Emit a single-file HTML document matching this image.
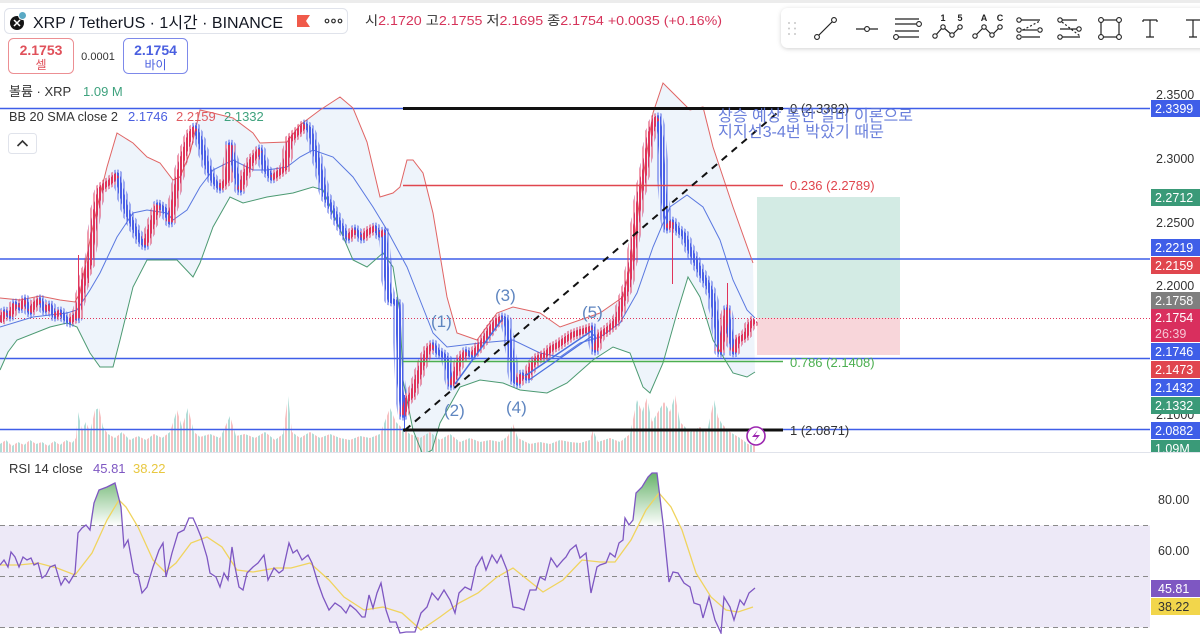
<!DOCTYPE html>
<html><head><meta charset="utf-8">
<style>
html,body{margin:0;padding:0;background:#fff;overflow:hidden;}
svg{display:block;}
text{font-family:"Liberation Sans","Noto Sans CJK KR",sans-serif;}
</style></head>
<body>
<svg width="1200" height="634" viewBox="0 0 1200 634" xmlns="http://www.w3.org/2000/svg">
<defs>
 <clipPath id="main"><rect x="0" y="0" width="1150" height="452"/></clipPath>
 <clipPath id="rsiPane"><rect x="0" y="454" width="1150" height="180"/></clipPath>
 <clipPath id="axisClip"><rect x="1140" y="0" width="60" height="452"/></clipPath>
 <linearGradient id="gg" gradientUnits="userSpaceOnUse" x1="0" y1="470" x2="0" y2="526">
  <stop offset="0" stop-color="#43a047" stop-opacity="0.85"/>
  <stop offset="1" stop-color="#43a047" stop-opacity="0"/>
 </linearGradient>
 <pattern id="pb" width="3" height="10" patternUnits="userSpaceOnUse"><rect x="0" y="0" width="2" height="10" fill="#4a5fe6"/></pattern>
 <pattern id="pr" width="3" height="10" patternUnits="userSpaceOnUse"><rect x="0" y="0" width="2" height="10" fill="#e0345a"/></pattern>
 <pattern id="wb" width="3" height="10" patternUnits="userSpaceOnUse"><rect x="0.5" y="0" width="1" height="10" fill="#4a5fe6"/></pattern>
 <pattern id="wr" width="3" height="10" patternUnits="userSpaceOnUse"><rect x="0.5" y="0" width="1" height="10" fill="#e0345a"/></pattern>
 <pattern id="pv" width="6" height="10" patternUnits="userSpaceOnUse"><rect x="0" y="0" width="2" height="10" fill="#b0ddd7"/><rect x="3" y="0" width="2" height="10" fill="#f7c0c1"/></pattern>
 <filter id="sh" x="-5%" y="-30%" width="115%" height="180%">
  <feDropShadow dx="0" dy="1" stdDeviation="2" flood-color="#000" flood-opacity="0.18"/>
 </filter>
</defs>
<rect width="1200" height="634" fill="#fff"/>
<rect x="0" y="0" width="1200" height="3" fill="#ececec"/>

<g clip-path="url(#main)">
 <polygon fill="#eef4fb" points="0,298 20,300 40,296 60,300 75,302 80,293 90,240 100,195 107,167 117,133 125,138 133,143 147,157 160,163 173,180 180,177 190,153 200,110 213,113 233,118 253,133 260,143 287,142 300,125 320,110 340,97 353,108 367,142 380,197 393,193 400,187 407,160 413,160 423,173 433,213 447,297 457,333 477,340 497,313 513,307 540,313 560,327 580,320 600,313 623,297 632,260 640,197 653,113 663,83 672,92 680,100 690,110 703,107 713,147 733,207 753,263 755,372 747,377 733,373 713,340 700,297 688,277 677,313 663,363 650,393 643,387 630,353 613,347 593,360 567,383 547,393 520,390 503,383 480,380 460,387 440,423 432,450 423,455 413,430 403,380 400,313 393,267 383,253 367,267 353,260 333,213 323,190 313,187 293,193 267,197 243,203 230,197 213,227 200,263 193,277 177,260 167,260 147,260 133,287 120,340 113,367 100,367 90,353 77,327 67,323 50,327 17,340 8,352 0,370"/>
 <polygon fill="url(#pv)" points="0,452 0,444 6,440 12,446 18,442 24,445 30,440 36,444 42,442 48,446 54,441 60,445 66,440 72,443 76,438 78,412 82,430 86,422 90,432 95,410 99,408 103,427 108,434 115,438 122,432 130,440 138,436 146,440 154,434 162,438 170,432 177,410 182,427 188,408 194,432 200,437 210,434 220,438 230,416 236,436 245,434 255,438 265,432 275,440 283,434 288,396 292,432 300,438 310,432 320,438 330,434 340,438 350,440 360,436 370,438 380,434 390,408 396,422 402,428 410,434 420,438 430,432 440,440 450,434 460,442 470,438 480,442 490,440 500,442 508,436 513,424 518,438 530,444 540,442 550,444 560,440 570,442 580,443 590,440 593,430 598,442 610,438 620,442 630,434 637,400 642,412 647,398 652,422 658,412 664,402 670,412 675,395 680,422 690,432 700,427 707,432 714,400 718,417 722,424 730,432 740,438 748,444 755,446 756,452"/>
 <rect x="757" y="197" width="143" height="121" fill="#d3ebe4"/>
 <rect x="757" y="318" width="143" height="37" fill="#f8d6da"/>
 <line x1="0" y1="108.5" x2="1150" y2="108.5" stroke="#3f5ee8" stroke-width="1.5"/>
 <line x1="0" y1="259" x2="1150" y2="259" stroke="#3f5ee8" stroke-width="1.5"/>
 <line x1="0" y1="358.5" x2="1150" y2="358.5" stroke="#3f5ee8" stroke-width="1.5"/>
 <line x1="0" y1="429.5" x2="1150" y2="429.5" stroke="#3f5ee8" stroke-width="1.5"/>
 <line x1="0" y1="318.5" x2="1150" y2="318.5" stroke="#e0345a" stroke-width="1" stroke-dasharray="1 2"/>
 <polyline fill="none" stroke="#e06464" stroke-width="1" points="0,298 20,300 40,296 60,300 75,302 80,293 90,240 100,195 107,167 117,133 125,138 133,143 147,157 160,163 173,180 180,177 190,153 200,110 213,113 233,118 253,133 260,143 287,142 300,125 320,110 340,97 353,108 367,142 380,197 393,193 400,187 407,160 413,160 423,173 433,213 447,297 457,333 477,340 497,313 513,307 540,313 560,327 580,320 600,313 623,297 632,260 640,197 653,113 663,83 672,92 680,100 690,110 703,107 713,147 733,207 753,263"/>
 <polyline fill="none" stroke="#5a78e0" stroke-width="1" points="0,327 33,317 67,313 77,310 90,290 100,273 117,237 133,213 147,210 167,213 173,220 187,210 200,187 213,170 233,160 253,170 267,170 287,167 300,157 313,150 333,157 353,177 373,207 387,230 407,267 420,300 433,333 447,347 480,343 513,340 540,353 560,357 580,343 600,337 620,323 637,293 653,247 670,207 687,195 703,207 720,240 733,280 747,310 755,318"/>
 <polyline fill="none" stroke="#4c9a72" stroke-width="1" points="0,370 8,352 17,340 50,327 67,323 77,327 90,353 100,367 113,367 120,340 133,287 147,260 167,260 177,260 193,277 200,263 213,227 230,197 243,203 267,197 293,193 313,187 323,190 333,213 353,260 367,267 383,253 393,267 400,313 403,380 413,430 423,455 432,450 440,423 460,387 480,380 503,383 520,390 547,393 567,383 593,360 613,347 630,353 643,387 650,393 663,363 677,313 688,277 700,297 713,340 733,373 747,377 755,372"/>
 <polyline fill="none" stroke="url(#wb)" stroke-width="11" stroke-linejoin="round" points="0,322 5,312 10,316 15,304 20,308 25,300 30,312 35,304 40,300 45,310 50,306 55,316 60,312 65,318 70,322 75,316 77,318 80,300 85,275 90,262 95,215 100,190 105,185 110,182 117,175 122,195 127,212 133,225 140,240 145,245 150,230 158,205 165,210 170,222 175,195 182,160 190,135 195,128 200,140 207,165 213,180 220,188 227,180 230,145 235,170 240,190 245,175 252,160 260,150 265,168 272,178 280,172 285,168 290,140 295,135 300,130 305,125 310,130 315,150 320,170 325,195 330,205 335,215 340,225 348,238 355,230 362,238 368,232 375,228 380,235 384,232 387,280 390,300 395,302 398,305 400,380 403,415 407,400 412,395 417,380 422,365 428,350 433,345 438,352 443,355 447,360 451,385 455,375 460,360 466,352 472,355 478,348 484,340 490,330 496,322 502,318 506,320 510,345 514,380 518,383 522,375 527,378 532,365 538,358 545,355 552,348 558,345 565,340 572,335 580,332 587,330 592,328 595,350 600,335 607,330 613,325 618,318 623,300 628,285 632,260 636,225 640,195 645,170 650,135 655,120 658,118 661,140 664,200 667,228 672,222 678,230 684,235 690,250 696,262 702,275 708,285 712,295 716,320 720,352 724,330 727,310 730,335 734,352 738,340 742,338 746,335 750,325 755,320"/>
 <path fill="none" stroke="url(#wr)" stroke-width="11" stroke-linejoin="round" d="M0,322 L5,312 M10,316 L15,304 M20,308 L25,300 M30,312 L35,304 L40,300 M45,310 L50,306 M55,316 L60,312 M70,322 L75,316 M77,318 L80,300 L85,275 L90,262 L95,215 L100,190 L105,185 L110,182 L117,175 M145,245 L150,230 L158,205 M170,222 L175,195 L182,160 L190,135 L195,128 M220,188 L227,180 L230,145 M240,190 L245,175 L252,160 L260,150 M272,178 L280,172 L285,168 L290,140 L295,135 L300,130 L305,125 M348,238 L355,230 M362,238 L368,232 L375,228 M380,235 L384,232 M403,415 L407,400 L412,395 L417,380 L422,365 L428,350 L433,345 M451,385 L455,375 L460,360 L466,352 M472,355 L478,348 L484,340 L490,330 L496,322 L502,318 M518,383 L522,375 M527,378 L532,365 L538,358 L545,355 L552,348 L558,345 L565,340 L572,335 L580,332 L587,330 L592,328 M595,350 L600,335 L607,330 L613,325 L618,318 L623,300 L628,285 L632,260 L636,225 L640,195 L645,170 L650,135 L655,120 L658,118 M667,228 L672,222 M720,352 L724,330 L727,310 M734,352 L738,340 L742,338 L746,335 L750,325 L755,320"/>
 <polyline fill="none" stroke="url(#pb)" stroke-width="5.5" stroke-linejoin="round" points="0,322 5,312 10,316 15,304 20,308 25,300 30,312 35,304 40,300 45,310 50,306 55,316 60,312 65,318 70,322 75,316 77,318 80,300 85,275 90,262 95,215 100,190 105,185 110,182 117,175 122,195 127,212 133,225 140,240 145,245 150,230 158,205 165,210 170,222 175,195 182,160 190,135 195,128 200,140 207,165 213,180 220,188 227,180 230,145 235,170 240,190 245,175 252,160 260,150 265,168 272,178 280,172 285,168 290,140 295,135 300,130 305,125 310,130 315,150 320,170 325,195 330,205 335,215 340,225 348,238 355,230 362,238 368,232 375,228 380,235 384,232 387,280 390,300 395,302 398,305 400,380 403,415 407,400 412,395 417,380 422,365 428,350 433,345 438,352 443,355 447,360 451,385 455,375 460,360 466,352 472,355 478,348 484,340 490,330 496,322 502,318 506,320 510,345 514,380 518,383 522,375 527,378 532,365 538,358 545,355 552,348 558,345 565,340 572,335 580,332 587,330 592,328 595,350 600,335 607,330 613,325 618,318 623,300 628,285 632,260 636,225 640,195 645,170 650,135 655,120 658,118 661,140 664,200 667,228 672,222 678,230 684,235 690,250 696,262 702,275 708,285 712,295 716,320 720,352 724,330 727,310 730,335 734,352 738,340 742,338 746,335 750,325 755,320"/>
 <path fill="none" stroke="url(#pr)" stroke-width="5.5" stroke-linejoin="round" d="M0,322 L5,312 M10,316 L15,304 M20,308 L25,300 M30,312 L35,304 L40,300 M45,310 L50,306 M55,316 L60,312 M70,322 L75,316 M77,318 L80,300 L85,275 L90,262 L95,215 L100,190 L105,185 L110,182 L117,175 M145,245 L150,230 L158,205 M170,222 L175,195 L182,160 L190,135 L195,128 M220,188 L227,180 L230,145 M240,190 L245,175 L252,160 L260,150 M272,178 L280,172 L285,168 L290,140 L295,135 L300,130 L305,125 M348,238 L355,230 M362,238 L368,232 L375,228 M380,235 L384,232 M403,415 L407,400 L412,395 L417,380 L422,365 L428,350 L433,345 M451,385 L455,375 L460,360 L466,352 M472,355 L478,348 L484,340 L490,330 L496,322 L502,318 M518,383 L522,375 M527,378 L532,365 L538,358 L545,355 L552,348 L558,345 L565,340 L572,335 L580,332 L587,330 L592,328 M595,350 L600,335 L607,330 L613,325 L618,318 L623,300 L628,285 L632,260 L636,225 L640,195 L645,170 L650,135 L655,120 L658,118 M667,228 L672,222 M720,352 L724,330 L727,310 M734,352 L738,340 L742,338 L746,335 L750,325 L755,320"/>
 <line x1="404.5" y1="395" x2="404.5" y2="432" stroke="#4a5fe6" stroke-width="1"/>
 <line x1="672.5" y1="222" x2="672.5" y2="284" stroke="#e0345a" stroke-width="1"/>
 <line x1="727.5" y1="283" x2="727.5" y2="312" stroke="#e0345a" stroke-width="1"/>
 <line x1="78.5" y1="255" x2="78.5" y2="300" stroke="#e0345a" stroke-width="1"/>
 <line x1="88.5" y1="262" x2="88.5" y2="283" stroke="#e0345a" stroke-width="1"/>
 <line x1="403" y1="185.5" x2="783" y2="185.5" stroke="#e0464e" stroke-width="1.5"/>
 <line x1="403" y1="361.5" x2="783" y2="361.5" stroke="#4caf50" stroke-width="1.5"/>
 <line x1="403" y1="108.5" x2="783" y2="108.5" stroke="#111" stroke-width="3"/>
 <line x1="403" y1="430" x2="783" y2="430" stroke="#111" stroke-width="3"/>
 <line x1="405" y1="430" x2="783" y2="108" stroke="#111" stroke-width="2" stroke-dasharray="7 6"/>
 <line x1="455" y1="384" x2="503" y2="318" stroke="#4a6fe0" stroke-width="1.5"/>
 <line x1="525" y1="376" x2="593" y2="330" stroke="#4a6fe0" stroke-width="1.5"/>
 <line x1="529" y1="380" x2="595" y2="334" stroke="#4a6fe0" stroke-width="1.2"/>
 <g fill="#5f86c0" font-size="17">
  <text x="431" y="327">(1)</text>
  <text x="444" y="416">(2)</text>
  <text x="495" y="301">(3)</text>
  <text x="506" y="413">(4)</text>
  <text x="582" y="318">(5)</text>
 </g>
 <text x="790" y="113" font-size="13" fill="#333">0 (2.3382)</text>
 <text x="790" y="190" font-size="13" fill="#e0464e">0.236 (2.2789)</text>
 <text x="790" y="367" font-size="13" fill="#4caf50">0.786 (2.1408)</text>
 <text x="790" y="435" font-size="13" fill="#333">1 (2.0871)</text>
 <g fill="#5a72d8" font-size="16" opacity="0.9">
  <text x="718" y="121" textLength="195" lengthAdjust="spacingAndGlyphs">상승 예상 통한 일비 이론으로</text>
  <text x="718" y="137" textLength="166" lengthAdjust="spacingAndGlyphs">지지선3-4번 박았기 때문</text>
 </g>
 <circle cx="756" cy="436" r="9" fill="#fff" stroke="#9c27b0" stroke-width="1.6"/>
 <path d="M758 430 L752 437 L757 437 L754 442 L760 435 L755 435 Z" fill="#9c27b0"/>
</g>

<rect x="4.5" y="8.5" width="343" height="25" rx="5" fill="#fff" stroke="#e0e3eb"/>
<circle cx="17" cy="23" r="7" fill="#151515"/>
<path d="M14 20 L20 26 M20 20 L14 26" stroke="#fff" stroke-width="1.5"/>
<circle cx="22.5" cy="15.5" r="4" fill="#5aa9c4" stroke="#fff" stroke-width="1"/>
<text x="33" y="28" font-size="16" fill="#131722" textLength="250" lengthAdjust="spacingAndGlyphs">XRP / TetherUS · 1시간 · BINANCE</text>
<polygon points="297,15 310,15 306,21 310,27 297,27" fill="#f05a4a"/>
<g fill="none" stroke="#333" stroke-width="1.2">
 <circle cx="327" cy="21" r="1.8"/><circle cx="333.5" cy="21" r="1.8"/><circle cx="340" cy="21" r="1.8"/>
</g>
<text x="365" y="25" font-size="13" textLength="357" lengthAdjust="spacingAndGlyphs"><tspan fill="#333">시</tspan><tspan fill="#d6335a">2.1720 </tspan><tspan fill="#333">고</tspan><tspan fill="#d6335a">2.1755 </tspan><tspan fill="#333">저</tspan><tspan fill="#d6335a">2.1695 </tspan><tspan fill="#333">종</tspan><tspan fill="#d6335a">2.1754 +0.0035 (+0.16%)</tspan></text>

<rect x="8.5" y="38.5" width="65" height="35" rx="5" fill="#fff" stroke="#ec8f93"/>
<text x="41" y="55" font-size="14" font-weight="bold" fill="#e0505a" text-anchor="middle">2.1753</text>
<text x="41" y="69" font-size="12" fill="#e0505a" text-anchor="middle">셀</text>
<text x="98" y="60" font-size="11" fill="#333" text-anchor="middle">0.0001</text>
<rect x="123.5" y="38.5" width="64" height="35" rx="5" fill="#fff" stroke="#7d89ea"/>
<text x="155.5" y="55" font-size="14" font-weight="bold" fill="#4a5fe0" text-anchor="middle">2.1754</text>
<text x="155.5" y="69" font-size="12" fill="#4a5fe0" text-anchor="middle">바이</text>

<text x="9" y="96" font-size="13" fill="#333">볼륨 · XRP</text>
<text x="83" y="96" font-size="13" fill="#3fa27e">1.09 M</text>
<text x="9" y="121" font-size="13" fill="#333" textLength="109" lengthAdjust="spacingAndGlyphs">BB 20 SMA close 2</text>
<text x="128" y="121" font-size="13" fill="#4a5fe0">2.1746</text>
<text x="176" y="121" font-size="13" fill="#e05a60">2.2159</text>
<text x="224" y="121" font-size="13" fill="#3fa27e">2.1332</text>
<rect x="8.5" y="133.5" width="28" height="20" rx="3" fill="#fff" stroke="#e0e3eb"/>
<path d="M17.5 146 L22.5 141 L27.5 146" fill="none" stroke="#333" stroke-width="1.6"/>

<rect x="781" y="8" width="430" height="40" rx="7" fill="#fff" filter="url(#sh)"/>
<g fill="#c8c8c8">
 <circle cx="789" cy="23" r="1"/><circle cx="795" cy="23" r="1"/>
 <circle cx="789" cy="28.5" r="1"/><circle cx="795" cy="28.5" r="1"/>
 <circle cx="789" cy="34" r="1"/><circle cx="795" cy="34" r="1"/>
</g>
<g stroke="#222" stroke-width="1.2" fill="none">
 <line x1="817" y1="37" x2="834" y2="20"/>
 <line x1="856" y1="29" x2="878" y2="29"/>
 <line x1="895" y1="19" x2="919" y2="19"/><line x1="895" y1="24" x2="916" y2="24"/>
 <line x1="895" y1="31" x2="919" y2="31"/><line x1="898" y1="37" x2="919" y2="37"/>
 <polyline points="935,36 943,27 952,35 960,27"/>
 <polyline points="975,36 984,27 992,35 1000,27"/>
 <line x1="1020" y1="20" x2="1040" y2="20"/><line x1="1022" y1="30" x2="1037" y2="30"/><line x1="1022" y1="37" x2="1040" y2="37"/>
 <line x1="1023" y1="30" x2="1040" y2="21" stroke-dasharray="2 2"/>
 <line x1="1060" y1="20" x2="1077" y2="20"/><line x1="1060" y1="29" x2="1077" y2="29"/><line x1="1060" y1="37" x2="1080" y2="37"/>
 <line x1="1062" y1="22" x2="1080" y2="36" stroke-dasharray="2 2"/>
 <rect x="1101" y="20" width="18" height="17"/>
 <path d="M1143 20 H1157 M1150 20 V37 M1146 37 H1154 M1143 20 V22 M1157 20 V22"/>
 <path d="M1186 20 H1200 M1193 20 V37 M1189 37 H1197"/>
</g>
<g stroke="#222" stroke-width="1.1" fill="#fff">
 <circle cx="817" cy="37" r="2.4"/><circle cx="834" cy="20" r="2.4"/>
 <circle cx="867" cy="29" r="2.4"/>
 <circle cx="919" cy="24" r="2.4"/><circle cx="896" cy="37" r="2.4"/>
 <circle cx="935" cy="36" r="2.2"/><circle cx="943" cy="27" r="2.2"/><circle cx="952" cy="35" r="2.2"/><circle cx="960" cy="27" r="2.2"/>
 <circle cx="975" cy="36" r="2.2"/><circle cx="984" cy="27" r="2.2"/><circle cx="992" cy="35" r="2.2"/><circle cx="1000" cy="27" r="2.2"/>
 <circle cx="1019" cy="20" r="2.2"/><circle cx="1019" cy="30" r="2.2"/><circle cx="1040" cy="30" r="2.2"/><circle cx="1019" cy="37" r="2.2"/>
 <circle cx="1060" cy="20" r="2.2"/><circle cx="1079" cy="29" r="2.2"/><circle cx="1060" cy="37" r="2.2"/>
 <circle cx="1101" cy="20" r="2.4"/><circle cx="1119" cy="20" r="2.4"/><circle cx="1101" cy="37" r="2.4"/><circle cx="1119" cy="37" r="2.4"/>
</g>
<g font-size="9" font-weight="bold" fill="#222" text-anchor="middle">
 <text x="943" y="21">1</text><text x="960" y="21">5</text>
 <text x="984" y="21">A</text><text x="1000" y="21">C</text>
</g>

<g font-size="12.5" fill="#333">
 <text x="1156" y="99">2.3500</text>
 <text x="1156" y="163">2.3000</text>
 <text x="1156" y="227">2.2500</text>
 <text x="1156" y="290">2.2000</text>
 <text x="1156" y="419">2.1000</text>
</g>
<g clip-path="url(#axisClip)">
<g font-size="12.5" fill="#fff">
 <rect x="1151" y="100" width="49" height="17" fill="#3f5ee8"/><text x="1155" y="113">2.3399</text>
 <rect x="1151" y="189" width="49" height="17" fill="#3a9a78"/><text x="1155" y="202">2.2712</text>
 <rect x="1151" y="239" width="49" height="17" fill="#3f5ee8"/><text x="1155" y="252">2.2219</text>
 <rect x="1151" y="257" width="49" height="17" fill="#e0464e"/><text x="1155" y="270">2.2159</text>
 <rect x="1151" y="292" width="49" height="17" fill="#7f7f7f"/><text x="1155" y="305">2.1758</text>
 <rect x="1151" y="309" width="49" height="33" fill="#d92f5e"/><text x="1155" y="322">2.1754</text>
 <text x="1155" y="338" fill="#f6c6d4">26:39</text>
 <rect x="1151" y="343" width="49" height="17" fill="#3f5ee8"/><text x="1155" y="356">2.1746</text>
 <rect x="1151" y="361" width="49" height="17" fill="#e0464e"/><text x="1155" y="374">2.1473</text>
 <rect x="1151" y="379" width="49" height="17" fill="#3f5ee8"/><text x="1155" y="392">2.1432</text>
 <rect x="1151" y="397" width="49" height="17" fill="#3a9a78"/><text x="1155" y="410">2.1332</text>
 <rect x="1151" y="422" width="49" height="17" fill="#3f5ee8"/><text x="1155" y="435">2.0882</text>
 <rect x="1151" y="440" width="49" height="17" fill="#3a9a78"/><text x="1155" y="453">1.09M</text>
</g>
</g>
<line x1="0" y1="452.5" x2="1200" y2="452.5" stroke="#e0e3eb" stroke-width="1"/>

<g clip-path="url(#rsiPane)">
 <rect x="0" y="525.5" width="1150" height="102" fill="#ede9f7"/>
 <g stroke="#8a8a8a" stroke-width="1" stroke-dasharray="5 4">
  <line x1="0" y1="525.5" x2="1150" y2="525.5"/>
  <line x1="0" y1="576.5" x2="1150" y2="576.5"/>
  <line x1="0" y1="627.5" x2="1150" y2="627.5"/>
 </g>
 <polygon fill="url(#gg)" points="89,525.5 94,503 99,490 107,487 115,483 121,507 123,525.5"/>
 <polygon fill="url(#gg)" points="624.3,525.5 625,518 629,525 633,520 636,493 642,487 648,477 652,473 657,473 663,523 663.3,525.5"/>
 <polyline fill="none" stroke="#f0d45e" stroke-width="1.3" points="0,565 19,565 38,563 57,568 75,575 92,553 107,520 119,500 126,507 138,527 153,560 165,572 176,563 191,543 207,537 222,547 237,570 253,572 276,568 291,568 310,563 329,580 344,597 364,610 383,607 402,613 421,630 440,617 459,603 478,593 497,577 513,568 528,580 543,592 563,580 582,560 600,562 615,562 631,540 646,510 659,493 671,507 682,530 696,573 711,597 726,610 738,612 753,607"/>
 <polyline fill="none" stroke="#7e57c2" stroke-width="1.3" points="0,565 4,560 8,567 11,552 15,557 19,567 23,557 27,560 31,558 34,565 38,563 42,578 46,575 50,567 55,565 61,585 65,578 69,583 75,573 78,533 82,528 86,525 90,530 94,503 99,490 107,487 115,483 121,507 124,547 128,540 134,573 138,575 142,593 147,587 153,567 159,550 163,543 166,577 172,553 178,533 184,530 189,518 193,518 197,527 201,537 207,557 210,573 216,577 220,587 224,573 228,580 232,547 235,567 239,587 243,590 247,573 253,567 258,563 264,555 268,580 274,568 279,573 283,570 289,543 293,553 297,550 302,560 308,555 312,563 318,583 323,597 329,610 335,603 341,607 346,613 350,605 356,610 362,617 365,617 369,595 373,608 377,593 381,583 386,610 390,622 396,622 400,633 406,632 411,632 415,632 421,613 427,607 432,593 438,600 444,590 450,600 455,613 459,593 465,587 471,590 476,567 482,557 486,570 492,555 497,563 501,555 507,570 513,607 519,608 524,610 530,590 536,590 540,577 545,580 551,558 557,567 563,560 566,557 570,550 576,545 580,558 586,553 591,593 597,567 600,565 606,563 610,553 615,557 619,543 623,540 625,518 629,525 633,520 636,493 642,487 648,477 652,473 657,473 663,523 669,582 673,572 678,573 684,583 690,587 694,603 700,605 703,618 709,597 715,620 721,633 724,597 730,607 734,620 740,600 744,605 749,593 755,588"/>
</g>
<text x="9" y="473" font-size="13" fill="#333">RSI 14 close</text>
<text x="93" y="473" font-size="13" fill="#7e57c2">45.81</text>
<text x="133" y="473" font-size="13" fill="#e8c840">38.22</text>
<g font-size="12.5" fill="#333">
 <text x="1158" y="504">80.00</text>
 <text x="1158" y="555">60.00</text>
</g>
<rect x="1151" y="580" width="49" height="17" fill="#7e57c2"/>
<text x="1158" y="593" font-size="12.5" fill="#fff">45.81</text>
<rect x="1151" y="598" width="49" height="17" fill="#f2d64b"/>
<text x="1158" y="611" font-size="12.5" fill="#333">38.22</text>
</svg>
</body></html>
